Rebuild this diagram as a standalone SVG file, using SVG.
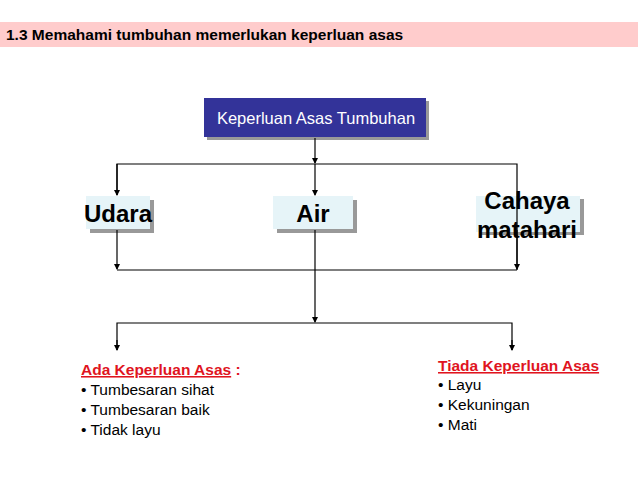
<svg xmlns="http://www.w3.org/2000/svg" width="638" height="479" viewBox="0 0 638 479">
<style>
text{font-family:"Liberation Sans",Arial,sans-serif}
.big{font-size:24px;font-weight:bold;fill:#000}
.item{font-size:15.5px;fill:#000}
.head{font-size:15.5px;font-weight:bold;fill:#e0141e}
.ln{stroke:#000;stroke-width:1.2;fill:none}
.shadow{fill:#999}
.lite{fill:#e6f4f8}
</style>
<defs>
<marker id="a" markerWidth="6" markerHeight="6" refX="5" refY="3" orient="auto" markerUnits="userSpaceOnUse"><path d="M0,0 L6,3 L0,6 z" fill="#000"/></marker>
</defs>
<rect x="0" y="22" width="638" height="25" fill="#ffcccc"/>
<text x="6" y="40" style="font-size:15.5px;font-weight:bold">1.3  Memahami tumbuhan memerlukan keperluan asas</text>
<g id="top">
<rect x="207" y="101" width="222" height="39" class="shadow"/>
<rect x="204" y="98" width="222" height="39" fill="#333399"/>
<text x="316" y="124" text-anchor="middle" style="font-size:16.5px;fill:#fff">Keperluan Asas Tumbuhan</text>
</g>
<g id="udara">
<rect x="90" y="200" width="64" height="33" class="shadow"/>
<rect x="86" y="196" width="64" height="33" class="lite"/>
<text x="118" y="222" text-anchor="middle" class="big">Udara</text>
</g>
<g id="air">
<rect x="277" y="200" width="80" height="33" class="shadow"/>
<rect x="273" y="196" width="80" height="33" class="lite"/>
<text x="313" y="222" text-anchor="middle" class="big">Air</text>
</g>
<g id="cahaya">
<rect x="480" y="199" width="104" height="36" class="shadow"/>
<rect x="476" y="196" width="104" height="36" class="lite"/>
<text x="527" y="209" text-anchor="middle" class="big">Cahaya</text>
<text x="527" y="238" text-anchor="middle" class="big">matahari</text>
</g>
<g id="connectors">
<path class="ln" d="M315,138 V163" marker-end="url(#a)"/>
<path class="ln" d="M117,195 V164 H517 V270"/>
<path class="ln" d="M315,164 V195" marker-end="url(#a)"/>
<path class="ln" d="M117,164 V195" marker-end="url(#a)"/>
<path class="ln" d="M117,230 V269" marker-end="url(#a)"/>
<path class="ln" d="M517,230 V269" marker-end="url(#a)"/>
<path class="ln" d="M117,270 H517"/>
<path class="ln" d="M315,230 V322" marker-end="url(#a)"/>
<path class="ln" d="M117,350 V323 H512 V350"/>
<path class="ln" d="M117,340 V350" marker-end="url(#a)"/>
<path class="ln" d="M512,340 V350" marker-end="url(#a)"/>
</g>
<g id="ada">
<text x="81" y="375" class="head"><tspan text-decoration="underline">Ada Keperluan Asas</tspan> :</text>
<text x="81" y="395" class="item">• Tumbesaran sihat</text>
<text x="81" y="415" class="item">• Tumbesaran baik</text>
<text x="81" y="435" class="item">• Tidak layu</text>
</g>
<g id="tiada">
<text x="438" y="371" class="head" text-decoration="underline">Tiada Keperluan Asas</text>
<text x="438" y="390" class="item">• Layu</text>
<text x="438" y="410" class="item">• Kekuningan</text>
<text x="438" y="430" class="item">• Mati</text>
</g>
</svg>
